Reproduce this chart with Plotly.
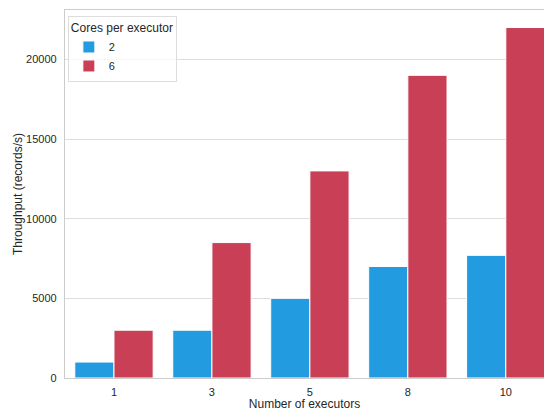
import plotly.graph_objects as go

executors = ["1", "3", "5", "8", "10"]
cores_2 = [1000, 3000, 5000, 7000, 7700]
cores_6 = [3000, 8500, 13000, 19000, 22000]
series_names = ["2", "6"]
colors = ["#239BE1", "#C93F55"]
y_ticks = [0, 5000, 10000, 15000, 20000]

fig = go.Figure()
for name, vals, col in zip(series_names, [cores_2, cores_6], colors):
    fig.add_trace(go.Bar(
        x=executors, y=vals, name=name,
        marker=dict(color=col, line=dict(color="white", width=1)),
    ))

font_fam = "Liberation Sans, Arial, sans-serif"
fig.update_layout(
    width=544, height=411,
    margin=dict(l=65, r=0, t=10, b=33, autoexpand=False),
    paper_bgcolor="white", plot_bgcolor="white",
    barmode="group", bargap=0.2, bargroupgap=0,
    font=dict(family=font_fam, size=11, color="#262626"),
    legend=dict(
        title=dict(text="Cores per executor", font=dict(size=12)),
        x=0.006, y=0.984, xanchor="left", yanchor="top",
        bgcolor="rgba(255,255,255,0.8)", bordercolor="#dddddd", borderwidth=1,
        font=dict(size=11), tracegroupgap=0,
    ),
    xaxis=dict(
        type="category", range=[-0.5, 4.39], automargin=False,
        showline=True, linecolor="#cccccc", linewidth=1.2, mirror=True,
        showgrid=False, ticks="", ticklen=0, ticklabelstandoff=4,
        title=dict(text="Number of executors", font=dict(size=12), standoff=0),
    ),
    yaxis=dict(
        range=[0, 23100], tickvals=y_ticks, ticktext=[str(v) for v in y_ticks],
        automargin=False,
        showline=True, linecolor="#cccccc", linewidth=1.2,
        showgrid=True, gridcolor="#dddddd", gridwidth=1,
        zeroline=False, ticks="", ticklen=0, ticklabelstandoff=5,
        title=dict(text="Throughput (records/s)", font=dict(size=12), standoff=0),
    ),
)
fig.write_html(
    "out.html",
    config={"displayModeBar": False},
    post_script="document.body.style.margin='0';document.body.style.overflow='hidden';",
)
